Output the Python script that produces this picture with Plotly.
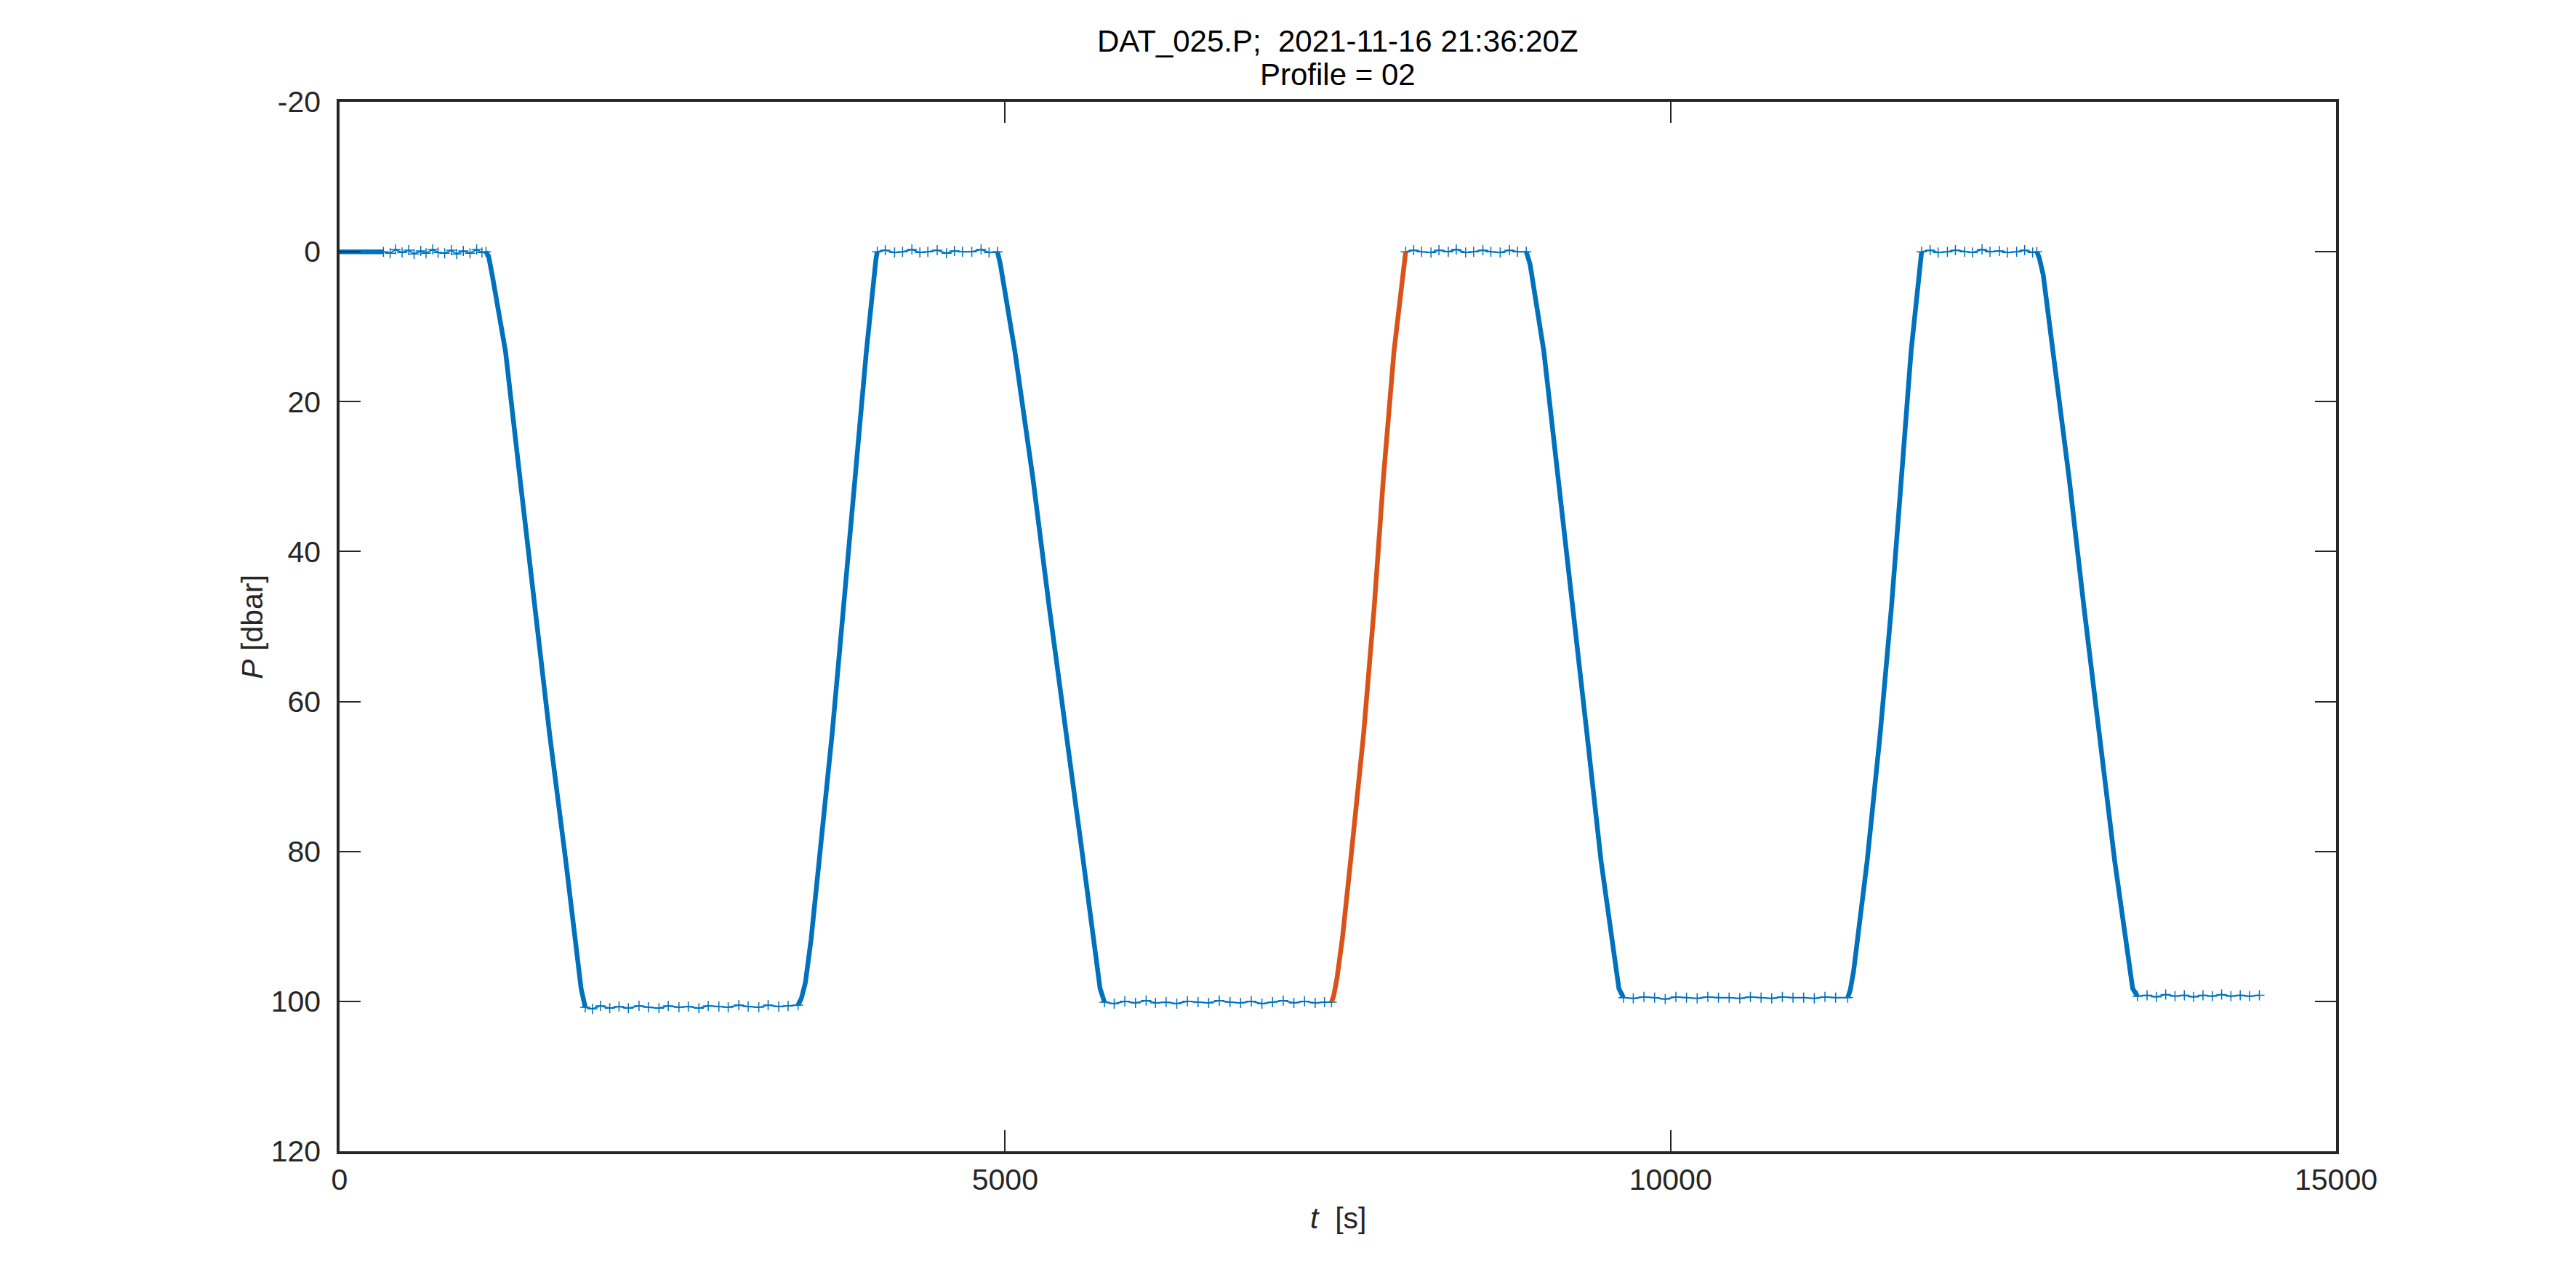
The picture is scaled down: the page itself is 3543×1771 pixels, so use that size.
import plotly.graph_objects as go

# ---- data ------------------------------------------------------------------
# full record, flat (surface / park) parts: thin line with '+' markers
surf0_t = [330, 380, 420, 470, 520, 560, 610, 650, 700, 740, 790, 840, 880, 930, 980, 1030, 1070, 1100]
surf0_p = [0.0, 0.2, -0.3, 0.1, -0.2, 0.3, -0.1, 0.2, -0.3, 0.1, 0.2, -0.2, 0.3, -0.1, 0.2, -0.3, 0.1, 0.0]

park1_t = [1846, 1900, 1960, 2030, 2100, 2170, 2250, 2320, 2400, 2470, 2550, 2620, 2700, 2770, 2850, 2920, 3000, 3070, 3150, 3220, 3300, 3370, 3445]
park1_p = [100.8, 101.0, 100.6, 100.9, 100.7, 100.9, 100.6, 100.8, 100.9, 100.6, 100.8, 100.7, 100.9, 100.6, 100.7, 100.8, 100.5, 100.7, 100.8, 100.5, 100.7, 100.6, 100.5]

surf1_t = [4040, 4100, 4170, 4230, 4300, 4360, 4420, 4490, 4560, 4620, 4680, 4750, 4820, 4880, 4943]
surf1_p = [0.0, -0.2, 0.1, 0.0, -0.3, 0.1, 0.0, -0.2, 0.2, -0.1, 0.0, 0.0, -0.3, 0.1, 0.0]

park2_t = [5747, 5820, 5900, 5980, 6060, 6130, 6210, 6290, 6370, 6450, 6530, 6610, 6690, 6770, 6850, 6930, 7010, 7090, 7170, 7250, 7330, 7400, 7453]
park2_p = [100.1, 100.3, 100.0, 100.2, 99.9, 100.2, 100.1, 100.3, 100.0, 100.1, 100.2, 99.9, 100.1, 100.2, 100.0, 100.3, 100.1, 99.9, 100.2, 100.0, 100.2, 100.1, 100.1]

surf2_t = [8010, 8070, 8130, 8200, 8260, 8330, 8390, 8460, 8520, 8590, 8650, 8720, 8790, 8850, 8916]
surf2_p = [0.0, -0.2, 0.0, 0.1, -0.2, 0.0, -0.3, 0.1, 0.0, -0.2, 0.0, 0.1, -0.2, 0.0, 0.0]

park3_t = [9646, 9720, 9800, 9880, 9960, 10040, 10120, 10200, 10280, 10360, 10440, 10520, 10600, 10680, 10760, 10840, 10920, 11000, 11080, 11160, 11240, 11331]
park3_p = [99.5, 99.6, 99.4, 99.5, 99.7, 99.4, 99.5, 99.6, 99.4, 99.5, 99.5, 99.6, 99.4, 99.5, 99.6, 99.4, 99.5, 99.5, 99.6, 99.4, 99.5, 99.5]

surf3_t = [11886, 11950, 12010, 12080, 12140, 12210, 12270, 12340, 12400, 12470, 12530, 12600, 12660, 12720, 12752]
surf3_p = [0.0, -0.2, 0.1, 0.0, -0.2, 0.0, 0.1, -0.3, 0.0, -0.1, 0.1, 0.0, -0.2, 0.1, 0.0]

park4_t = [13508, 13580, 13650, 13720, 13790, 13860, 13930, 14000, 14070, 14140, 14210, 14280, 14350, 14424]
park4_p = [99.3, 99.2, 99.4, 99.1, 99.3, 99.2, 99.4, 99.2, 99.3, 99.1, 99.3, 99.2, 99.3, 99.2]

# profiling legs: thick line
start_t = [0, 330]
start_p = [0.0, 0.0]

down1_t = [1100, 1120, 1148, 1247, 1356, 1468, 1578, 1700, 1815, 1846]
down1_p = [0.0, 0.6, 3.2, 13.3, 30.3, 47.3, 64.3, 81.3, 98.3, 100.8]

up1_t = [3445, 3470, 3500, 3543, 3603, 3701, 3787, 3872, 3958, 4030, 4040]
up1_p = [100.5, 99.6, 97.5, 91.7, 81.3, 64.3, 47.3, 30.3, 13.3, 1.0, 0.0]

down2_t = [4943, 4965, 5074, 5210, 5331, 5462, 5588, 5714, 5747]
down2_p = [0.0, 1.7, 13.3, 30.3, 47.3, 64.3, 81.3, 98.3, 100.1]

down3_t = [8916, 8945, 9048, 9158, 9262, 9372, 9478, 9612, 9646]
down3_p = [0.0, 1.7, 13.3, 30.3, 47.3, 64.3, 81.3, 98.3, 99.5]

up3_t = [11331, 11350, 11375, 11404, 11477, 11575, 11660, 11734, 11807, 11886]
up3_p = [99.5, 98.5, 96.0, 91.5, 81.3, 64.3, 47.3, 30.3, 13.3, 0.0]

down4_t = [12752, 12770, 12800, 12873, 12995, 13105, 13220, 13337, 13472, 13508]
down4_p = [0.0, 0.8, 3.1, 13.3, 30.3, 47.3, 64.3, 81.3, 98.3, 99.3]

# selected profile (02)
prof_t = [7453, 7470, 7495, 7535, 7596, 7694, 7774, 7842, 7922, 8010]
prof_p = [100.1, 99.2, 96.8, 91.5, 81.3, 64.3, 47.3, 30.3, 13.3, 0.0]

x_ticks = [0, 5000, 10000, 15000]
x_labels = ['0', '5000', '10000', '15000']
y_ticks = [-20, 0, 20, 40, 60, 80, 100, 120]
y_labels = ['-20', '0', '20', '40', '60', '80', '100', '120']

title1 = 'DAT_025.P;\u00a0 2021-11-16 21:36:20Z'
title2 = 'Profile = 02'

#%%
BLUE = '#0072BD'
ORANGE = '#D95319'
AX = '#262626'
FONT = 'Liberation Sans, Arial, Helvetica, sans-serif'

fig = go.Figure()

flat = [(surf0_t, surf0_p), (park1_t, park1_p), (surf1_t, surf1_p), (park2_t, park2_p),
        (surf2_t, surf2_p), (park3_t, park3_p), (surf3_t, surf3_p), (park4_t, park4_p)]
for tt, pp in flat:
    fig.add_trace(go.Scatter(x=tt, y=pp, mode='lines+markers',
                             line=dict(color=BLUE, width=2),
                             marker=dict(symbol='cross-thin', size=10,
                                         line=dict(color=BLUE, width=1.5)),
                             showlegend=False, hoverinfo='skip'))

legs = [(start_t, start_p), (down1_t, down1_p), (up1_t, up1_p), (down2_t, down2_p),
        (down3_t, down3_p), (up3_t, up3_p), (down4_t, down4_p)]
for tt, pp in legs:
    fig.add_trace(go.Scatter(x=tt, y=pp, mode='lines',
                             line=dict(color=BLUE, width=6.5),
                             showlegend=False))

fig.add_trace(go.Scatter(x=prof_t, y=prof_p, mode='lines',
                         line=dict(color=ORANGE, width=6.5),
                         showlegend=False))

axis_style = dict(showline=True, linecolor=AX, linewidth=3.5, mirror='ticks',
                  ticks='inside', ticklen=29, tickwidth=2, tickcolor=AX,
                  showgrid=False, zeroline=False,
                  tickfont=dict(family=FONT, size=41, color=AX))

fig.update_xaxes(range=[0, 15000], tickvals=x_ticks, ticktext=x_labels,
                 ticklabelstandoff=0, **axis_style)
fig.update_yaxes(range=[120, -20], tickvals=y_ticks, ticktext=y_labels,
                 ticklabelstandoff=14, **axis_style)

fig.update_layout(
    width=3543, height=1771,
    margin=dict(l=459, r=338, t=132, b=196),
    paper_bgcolor='white', plot_bgcolor='white',
    showlegend=False,
    annotations=[
        dict(text=title1, xref='paper', yref='paper', x=0.5, y=1.058,
             xanchor='center', yanchor='middle', showarrow=False,
             font=dict(family=FONT, size=42, color='black')),
        dict(text=title2, xref='paper', yref='paper', x=0.5, y=1.026,
             xanchor='center', yanchor='middle', showarrow=False,
             font=dict(family=FONT, size=42, color='black')),
        dict(text='<i>t</i>\u00a0 [s]', xref='paper', yref='paper', x=0.5, y=-0.064,
             xanchor='center', yanchor='middle', showarrow=False,
             font=dict(family=FONT, size=41, color=AX)),
        dict(text='<i>P</i>\u00a0[dbar]', xref='paper', yref='paper', x=-0.044, y=0.5,
             xanchor='center', yanchor='middle', showarrow=False, textangle=-90,
             font=dict(family=FONT, size=41, color=AX)),
    ],
)

fig.write_html("out.html")
